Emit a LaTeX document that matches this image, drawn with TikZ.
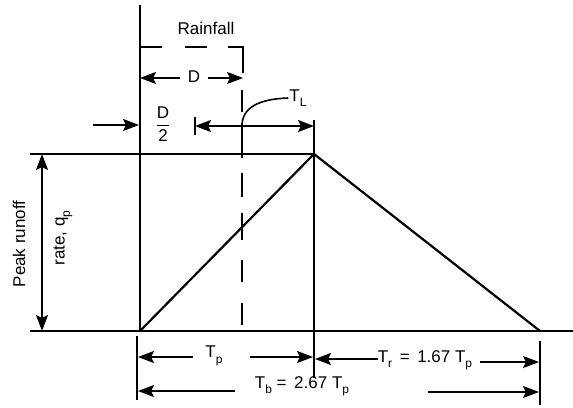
\documentclass[tikz,border=0pt]{standalone}
\usepackage{fontspec}
\setmainfont{Liberation Sans}
\usetikzlibrary{arrows.meta}
\newcommand\lowsub[1]{\raisebox{-0.6ex}{\fontsize{12}{12}\selectfont #1}}
\begin{document}
\begin{tikzpicture}[x=1pt,y=-1pt,
  ln/.style={line width=2.2pt},
  dsh/.style={line width=1.8pt},
  dim/.style={line width=2pt,-{Stealth[length=16pt,width=12pt,inset=3pt]}},
  ddim/.style={line width=2pt,{Stealth[length=16pt,width=12pt,inset=3pt]}-{Stealth[length=16pt,width=12pt,inset=3pt]}},
  lbl/.style={font=\fontsize{17}{19}\selectfont,inner sep=1pt}]
\useasboundingbox (0,0) rectangle (573,407);
% key coordinates
\coordinate (axtop) at (140,5);
\coordinate (axbot) at (140,331);
\coordinate (peak) at (314,154);
\coordinate (end) at (540,331);
\coordinate (blL) at (30,331);
\coordinate (blR) at (573,331);
\coordinate (phL) at (30,154);
\coordinate (pvTop) at (314,120);
\coordinate (pvBot) at (314,378);
% axes and lines
\draw[ln] (axtop) -- (axbot);
\draw[ln] (blL) -- (blR);
\draw[ln] (phL) -- (peak);
\draw[ln] (pvTop) -- (pvBot);
\draw[ln,line join=miter] (axbot) -- (peak) -- (end);
% rainfall dashed box
\draw[dsh] (140,47) -- (162,47);
\draw[dsh] (185,47) -- (207,47);
\draw[dsh,line join=miter] (228,47) -- (243,47) -- (243,73);
\foreach \a/\b in {90/112,123/158,173/197,213/240,260/282,303/325}
  \draw[dsh] (242,\a) -- (242,\b);
\node[lbl] (rain) at (206,28) {Rainfall};
% D
\node[lbl] (D) at (194,77) {D};
\coordinate (DL) at (140,78);
\coordinate (DR) at (243,78);
\draw[dim] (D.west) ++(-7pt,1) coordinate (Dl0) -- (DL);
\draw[dim] (D.east) ++(7pt,1) coordinate (Dr0) -- (DR);
% D/2
\node[lbl] (D2) at (163,124) {$\displaystyle\frac{\mbox{D}}{\mbox{2}}$};
\coordinate (D2s) at (93,125);
\coordinate (D2e) at (139,125);
\draw[dim] (D2s) -- (D2e);
% T_L
\coordinate (TLs) at (195,126);
\coordinate (TLe) at (314,126);
\draw[line width=2pt] (195,117) -- (195,135);
\draw[ddim] (TLs) -- (TLe);
\node[lbl] (TL) at (298,98) {T\lowsub{L}};
\coordinate (TLc) at (242,126);
\draw[line width=1.6pt] (TLc) .. controls (242,108) and (258,99) .. (TL.west);
% Peak runoff
\coordinate (qT) at (42,154);
\coordinate (qB) at (42,331);
\draw[ddim] (qT) -- (qB);
\node[lbl,rotate=90] (pr) at (19,244) {Peak runoff};
\node[lbl,rotate=90] (rq) at (63,238) {rate, q\lowsub{p}};
% extension lines bottom
\draw[ln] (137,336) -- (137,400);
\draw[ln] (540,341) -- (540,405);
% T_p
\node[lbl] (Tp) at (214,356) {T\lowsub{p}};
\draw[dim] (193,357) coordinate (tpa) -- (138,357);
\draw[dim] (250,357) coordinate (tpb) -- (313,357);
% T_r
\node[lbl] (Tr) at (425,360) {T\lowsub{r} \,=\, 1.67 T\lowsub{p}};
\draw[dim] (Tr.west) ++(1,-1) -- (315,359);
\draw[dim] (480,362) coordinate (tra) -- (539,362);
% T_b
\node[lbl] (Tb) at (302,386) {T\lowsub{b} = \,2.67 T\lowsub{p}};
\draw[dim] (235,391) coordinate (tba) -- (138,391);
\draw[dim] (428,392) coordinate (tbb) -- (539,392);
\end{tikzpicture}
\end{document}
